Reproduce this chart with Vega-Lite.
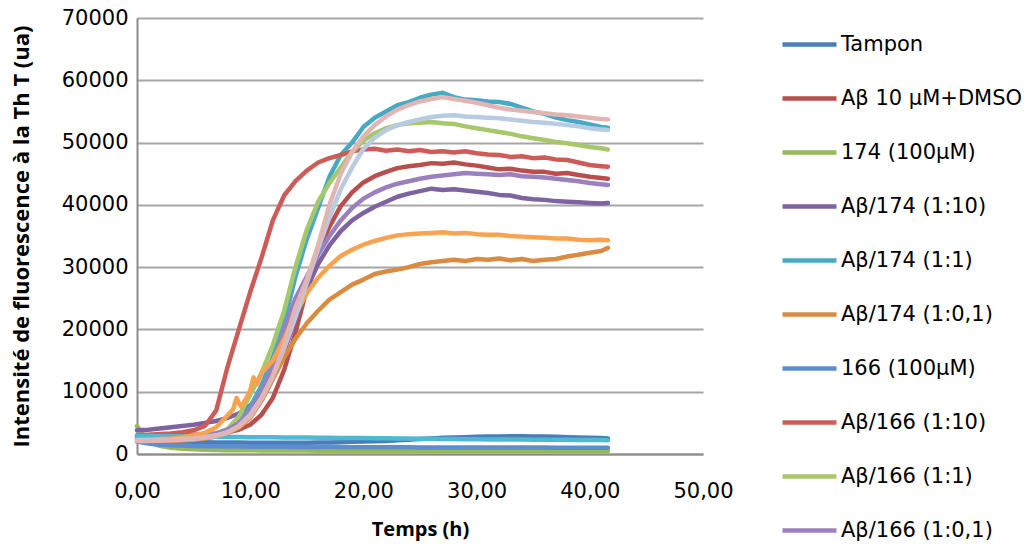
{
  "$schema": "https://vega.github.io/schema/vega-lite/v6.json",
  "width": 566,
  "height": 436,
  "autosize": {"type": "none"},
  "padding": {"left": 137, "top": 18, "right": 330, "bottom": 91},
  "background": "white",
  "datasets": {
    "names": [
      {"code": "A", "serie": "Tampon"},
      {"code": "B", "serie": "Aβ 10 µM+DMSO"},
      {"code": "C", "serie": "174 (100µM)"},
      {"code": "D", "serie": "Aβ/174 (1:10)"},
      {"code": "E", "serie": "Aβ/174 (1:1)"},
      {"code": "F", "serie": "Aβ/174 (1:0,1)"},
      {"code": "G", "serie": "166 (100µM)"},
      {"code": "H", "serie": "Aβ/166 (1:10)"},
      {"code": "I", "serie": "Aβ/166 (1:1)"},
      {"code": "J", "serie": "Aβ/166 (1:0,1)"},
      {"code": "K", "serie": "Série 11"},
      {"code": "L", "serie": "Série 12"},
      {"code": "M", "serie": "Série 13"},
      {"code": "N", "serie": "Série 14"}
    ]
  },
  "data": {"values": [
    {"t":0,"A":2400,"B":2800,"C":4500,"D":3800,"E":2700,"F":2000,"G":2000,"H":3000,"I":2500,"J":2600,"K":2900,"L":2300,"M":2200,"N":2100},
    {"t":1,"A":2200,"B":2900,"C":2000,"D":3900,"E":2600,"F":2000,"G":1700,"H":3100,"I":2500,"J":2650,"K":2880,"L":2300,"M":2200,"N":2100},
    {"t":2,"A":2100,"B":2950,"C":1300,"D":4100,"E":2600,"F":2050,"G":1500,"H":3200,"I":2550,"J":2700,"K":2860,"L":2400,"M":2250,"N":2150},
    {"t":3,"A":2000,"B":3000,"C":1000,"D":4300,"E":2650,"F":2100,"G":1400,"H":3300,"I":2600,"J":2750,"K":2840,"L":2500,"M":2300,"N":2200},
    {"t":4,"A":1950,"B":3050,"C":850,"D":4500,"E":2700,"F":2200,"G":1350,"H":3500,"I":2700,"J":2800,"K":2820,"L":2700,"M":2400,"N":2300},
    {"t":5,"A":1900,"B":3100,"C":750,"D":4700,"E":2800,"F":2300,"G":1300,"H":3800,"I":2800,"J":2900,"K":2800,"L":3000,"M":2500,"N":2400},
    {"t":6,"A":1900,"B":3200,"C":700,"D":5000,"E":2950,"F":2500,"G":1250,"H":4500,"I":3000,"J":3000,"K":2780,"L":3400,"M":2700,"N":2600},
    {"t":7,"A":1850,"B":3300,"C":650,"D":5300,"E":3200,"F":2800,"G":1250,"H":7000,"I":3300,"J":3300,"K":2760,"L":4300,"M":3000,"N":2900},
    {"t":8,"A":1850,"B":3500,"C":620,"D":5800,"E":3700,"F":3300,"G":1200,"H":14000,"I":4000,"J":3900,"K":2740,"L":6200,"M":3500,"N":3400},
    {"t":8.5,"L":7200},
    {"t":8.8,"L":9000},
    {"t":9,"A":1850,"B":3900,"C":600,"D":6500,"E":5000,"F":4200,"G":1200,"H":20000,"I":6000,"J":5000,"K":2720,"L":8200,"M":4500,"N":4400},
    {"t":9.2,"L":7600},
    {"t":9.6,"L":8800},
    {"t":10,"A":1800,"B":4700,"C":600,"D":7800,"E":7500,"F":5800,"G":1180,"H":26000,"I":9500,"J":7000,"K":2700,"L":10200,"M":6300,"N":6000},
    {"t":10.3,"L":12300},
    {"t":10.6,"L":11200},
    {"t":11,"A":1800,"B":6300,"C":580,"D":9800,"E":11000,"F":8500,"G":1170,"H":31500,"I":13000,"J":10000,"K":2690,"L":13000,"M":9000,"N":8800},
    {"t":12,"A":1800,"B":9000,"C":570,"D":12500,"E":15500,"F":12000,"G":1160,"H":37500,"I":17500,"J":14000,"K":2680,"L":15000,"M":12500,"N":12500},
    {"t":13,"A":1800,"B":13500,"C":560,"D":16500,"E":21000,"F":15500,"G":1150,"H":41500,"I":23000,"J":20000,"K":2660,"L":18500,"M":17000,"N":17500},
    {"t":14,"A":1800,"B":19500,"C":550,"D":21500,"E":28500,"F":18500,"G":1140,"H":43800,"I":30000,"J":25000,"K":2650,"L":22500,"M":22000,"N":23500},
    {"t":15,"A":1800,"B":26500,"C":550,"D":26500,"E":34500,"F":21000,"G":1130,"H":45500,"I":36000,"J":28500,"K":2640,"L":25800,"M":27500,"N":28000},
    {"t":16,"A":1850,"B":32500,"C":540,"D":30500,"E":39500,"F":23000,"G":1120,"H":46800,"I":40500,"J":32000,"K":2620,"L":28300,"M":33000,"N":33500},
    {"t":17,"A":1850,"B":36500,"C":540,"D":33500,"E":44500,"F":24800,"G":1110,"H":47500,"I":43500,"J":35000,"K":2600,"L":30200,"M":38000,"N":40000},
    {"t":18,"A":1900,"B":39800,"C":530,"D":35800,"E":48000,"F":26000,"G":1100,"H":48000,"I":46000,"J":37500,"K":2580,"L":31800,"M":42500,"N":45000},
    {"t":19,"A":1950,"B":42000,"C":530,"D":37500,"E":50000,"F":27200,"G":1100,"H":48600,"I":48500,"J":39500,"K":2560,"L":32800,"M":46000,"N":48500},
    {"t":20,"A":2000,"B":43600,"C":520,"D":38700,"E":52500,"F":28000,"G":1090,"H":48900,"I":50300,"J":41000,"K":2550,"L":33600,"M":49000,"N":51000},
    {"t":21,"A":2050,"B":44600,"C":520,"D":39700,"E":54000,"F":28900,"G":1080,"H":49000,"I":51500,"J":42000,"K":2530,"L":34200,"M":50800,"N":52800},
    {"t":22,"A":2100,"B":45300,"C":520,"D":40500,"E":55000,"F":29300,"G":1080,"H":48700,"I":52300,"J":42800,"K":2510,"L":34700,"M":52000,"N":54200},
    {"t":23,"A":2200,"B":45900,"C":510,"D":41300,"E":56000,"F":29600,"G":1070,"H":48900,"I":52800,"J":43400,"K":2490,"L":35100,"M":52800,"N":55300},
    {"t":24,"A":2300,"B":46200,"C":510,"D":41800,"E":56500,"F":30000,"G":1070,"H":48600,"I":53100,"J":43800,"K":2470,"L":35300,"M":53300,"N":56000},
    {"t":25,"A":2400,"B":46400,"C":510,"D":42200,"E":57200,"F":30500,"G":1060,"H":48800,"I":53200,"J":44200,"K":2450,"L":35400,"M":53700,"N":56600},
    {"t":26,"A":2500,"B":46700,"C":510,"D":42600,"E":57700,"F":30800,"G":1060,"H":48500,"I":53300,"J":44500,"K":2430,"L":35500,"M":54100,"N":57000},
    {"t":27,"A":2600,"B":46600,"C":500,"D":42400,"E":58000,"F":31000,"G":1050,"H":48600,"I":53100,"J":44700,"K":2410,"L":35600,"M":54300,"N":57300},
    {"t":28,"A":2650,"B":46800,"C":500,"D":42500,"E":57300,"F":31200,"G":1050,"H":48400,"I":53000,"J":44900,"K":2390,"L":35400,"M":54400,"N":57000},
    {"t":29,"A":2700,"B":46500,"C":500,"D":42300,"E":56900,"F":31000,"G":1050,"H":48600,"I":52600,"J":45100,"K":2370,"L":35500,"M":54200,"N":56700},
    {"t":30,"A":2750,"B":46300,"C":500,"D":42100,"E":56800,"F":31300,"G":1050,"H":48300,"I":52300,"J":45000,"K":2350,"L":35300,"M":54100,"N":56400},
    {"t":31,"A":2800,"B":46000,"C":500,"D":41900,"E":56600,"F":31200,"G":1040,"H":48100,"I":52000,"J":44900,"K":2340,"L":35200,"M":54000,"N":56000},
    {"t":32,"A":2800,"B":45700,"C":500,"D":41600,"E":56500,"F":31400,"G":1040,"H":48000,"I":51700,"J":44800,"K":2330,"L":35200,"M":53900,"N":55600},
    {"t":33,"A":2850,"B":45800,"C":500,"D":41500,"E":56200,"F":31100,"G":1040,"H":47700,"I":51400,"J":44900,"K":2320,"L":35000,"M":53700,"N":55300},
    {"t":34,"A":2850,"B":45500,"C":500,"D":41100,"E":55600,"F":31300,"G":1030,"H":47800,"I":51000,"J":44600,"K":2310,"L":34900,"M":53500,"N":55100},
    {"t":35,"A":2800,"B":45300,"C":500,"D":40900,"E":55000,"F":31000,"G":1030,"H":47500,"I":50700,"J":44500,"K":2300,"L":34800,"M":53300,"N":54900},
    {"t":36,"A":2800,"B":45300,"C":500,"D":40800,"E":54600,"F":31200,"G":1030,"H":47600,"I":50400,"J":44400,"K":2290,"L":34700,"M":53200,"N":54700},
    {"t":37,"A":2750,"B":45000,"C":500,"D":40600,"E":54000,"F":31300,"G":1020,"H":47300,"I":50100,"J":44200,"K":2280,"L":34600,"M":53000,"N":54500},
    {"t":38,"A":2700,"B":45100,"C":500,"D":40500,"E":53600,"F":31700,"G":1020,"H":47200,"I":49900,"J":44000,"K":2270,"L":34600,"M":52800,"N":54400},
    {"t":39,"A":2650,"B":44800,"C":500,"D":40400,"E":53300,"F":32000,"G":1010,"H":46800,"I":49600,"J":43800,"K":2260,"L":34400,"M":52600,"N":54200},
    {"t":40,"A":2600,"B":44500,"C":500,"D":40300,"E":52900,"F":32300,"G":1010,"H":46400,"I":49300,"J":43500,"K":2250,"L":34300,"M":52300,"N":54000},
    {"t":41,"A":2550,"B":44300,"C":500,"D":40200,"E":52500,"F":32600,"G":1000,"H":46200,"I":49100,"J":43300,"K":2230,"L":34400,"M":52100,"N":53800},
    {"t":41.6,"A":2500,"B":44200,"C":500,"D":40300,"E":52400,"F":33100,"G":1000,"H":46100,"I":48900,"J":43200,"K":2200,"L":34300,"M":52000,"N":53700}
  ]},
  "transform": [
    {"fold": ["A","B","C","D","E","F","G","H","I","J","K","L","M","N"], "as": ["code","v"]},
    {"filter": "isValid(datum.v)"},
    {"lookup": "code", "from": {"data": {"name": "names"}, "key": "code", "fields": ["serie"]}}
  ],
  "mark": {"type": "line", "strokeWidth": 4.5, "strokeCap": "round", "strokeJoin": "round", "invalid": "filter"},
  "encoding": {
    "x": {
      "field": "t", "type": "quantitative",
      "scale": {"domain": [0, 50], "nice": false, "zero": false},
      "axis": {
        "title": "Temps (h)",
        "values": [0, 10, 20, 30, 40, 50],
        "labelExpr": "replace(format(datum.value, '.2f'), '.', ',')",
        "labelFlush": false,
        "labelOverlap": false,
        "grid": false, "ticks": false,
        "domainColor": "#8c8c8c", "domainWidth": 2,
        "labelFont": "DejaVu Sans", "labelFontSize": 21, "labelColor": "#000",
        "labelPadding": 26,
        "titleFont": "Open Sans", "titleFontSize": 20, "titleFontWeight": "bold", "titleColor": "#000",
        "titlePadding": 18
      }
    },
    "y": {
      "field": "v", "type": "quantitative",
      "scale": {"domain": [0, 70000], "nice": false},
      "axis": {
        "title": "Intensité de fluorescence à la Th T (ua)",
        "values": [0, 10000, 20000, 30000, 40000, 50000, 60000, 70000],
        "format": "d",
        "labelFlush": false,
        "grid": true, "gridColor": "#a6a6a6", "gridWidth": 2,
        "ticks": false,
        "domainColor": "#8c8c8c", "domainWidth": 2,
        "labelFont": "DejaVu Sans", "labelFontSize": 21, "labelColor": "#000",
        "labelPadding": 9,
        "titleFont": "Open Sans", "titleFontSize": 22, "titleFontWeight": "bold", "titleColor": "#000",
        "titlePadding": 28
      }
    },
    "color": {
      "field": "serie", "type": "nominal",
      "scale": {
        "domain": ["Tampon","Aβ 10 µM+DMSO","174 (100µM)","Aβ/174 (1:10)","Aβ/174 (1:1)","Aβ/174 (1:0,1)","166 (100µM)","Aβ/166 (1:10)","Aβ/166 (1:1)","Aβ/166 (1:0,1)","Série 11","Série 12","Série 13","Série 14"],
        "range": ["#4a7ebb","#b84f4c","#98b954","#7e63a1","#46aac5","#da8b40","#5b8ed0","#cd5c59","#a6c76a","#9a80bf","#4fb9d3","#f9a24f","#b8cbe3","#e2b5b4"]
      },
      "legend": {
        "title": null,
        "orient": "none",
        "legendX": 643,
        "legendY": -3,
        "values": ["Tampon","Aβ 10 µM+DMSO","174 (100µM)","Aβ/174 (1:10)","Aβ/174 (1:1)","Aβ/174 (1:0,1)","166 (100µM)","Aβ/166 (1:10)","Aβ/166 (1:1)","Aβ/166 (1:0,1)"],
        "symbolType": "stroke",
        "symbolSize": 2916,
        "symbolStrokeWidth": 4.5,
        "labelFont": "DejaVu Sans",
        "labelFontSize": 21,
        "labelColor": "#000",
        "labelOffset": 2,
        "rowPadding": 14,
        "labelLimit": 300
      }
    }
  },
  "config": {"view": {"stroke": null}}
}
